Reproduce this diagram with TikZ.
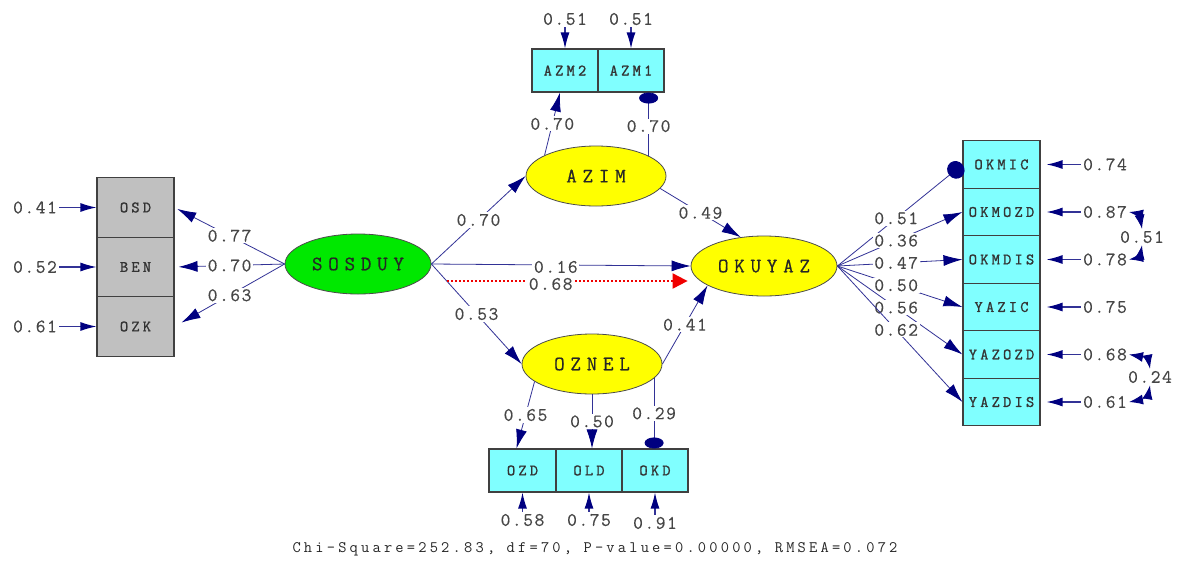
\documentclass[tikz,border=0pt]{standalone}
\usepackage{fontspec}
\usetikzlibrary{shapes.geometric,arrows.meta,calc}
\newfontfamily\numfont[LetterSpace=8,FakeBold=0.3]{Latin Modern Mono}
\newfontfamily\boxfont[LetterSpace=20,FakeBold=1.2]{Latin Modern Mono}
\newfontfamily\latfont[LetterSpace=28,FakeBold=0.6]{Latin Modern Mono}
\newfontfamily\fitfont[LetterSpace=20]{Latin Modern Mono}
\definecolor{linecol}{RGB}{50,50,150}
\definecolor{headcol}{RGB}{0,0,128}
\definecolor{numgray}{RGB}{70,70,70}
\definecolor{obsgray}{RGB}{192,192,192}
\definecolor{obscyan}{RGB}{128,255,255}
\definecolor{latyellow}{RGB}{255,255,0}
\definecolor{latgreen}{RGB}{0,232,0}
\definecolor{dotred}{RGB}{240,0,0}
\tikzset{
  num/.style={font=\numfont\fontsize{19}{19}\selectfont, text=numgray, inner sep=2pt},
  lab/.style={num, fill=white, inner sep=1.5pt},
  obs/.style={rectangle, draw=black!75, line width=1.1pt, inner sep=0pt,
    minimum width=77pt, font=\boxfont\fontsize{16}{16}\selectfont, text=black!80},
  graybox/.style={obs, fill=obsgray, minimum height=59.5pt},
  cyanbox/.style={obs, fill=obscyan, minimum width=66pt, minimum height=43pt},
  rightbox/.style={obs, fill=obscyan, minimum height=47.5pt},
  lat/.style={ellipse, draw=black!70, line width=0.8pt, fill=latyellow, inner sep=0pt,
    minimum width=140pt, minimum height=60pt,
    font=\latfont\fontsize{20.5}{20.5}\selectfont, text=black!85},
  pth/.style={draw=linecol, line width=0.8pt, -{Latex[length=19pt,width=11pt,color=headcol]}},
  err/.style={draw=linecol, line width=1.2pt, -{Latex[length=16pt,width=9pt,color=headcol]}},
  blob/.style={-{Circle[length=11pt,width=19pt,color=headcol]}},
  bigblob/.style={-{Circle[length=17pt,width=18pt,color=headcol]}},
  cov/.style={draw=linecol, line width=0.9pt,
    {Latex[length=14pt,width=10pt,color=headcol]}-{Latex[length=14pt,width=10pt,color=headcol]}},
}
\begin{document}
\begin{tikzpicture}[x=1pt,y=-1pt]
\fill[white] (0,0) rectangle (1182,560);
\useasboundingbox (0,0) rectangle (1182,560);

% latent variables
\node[lat, fill=latgreen, minimum width=146pt] (sos) at (358,264) {SOSDUY};
\node[lat] (azim) at (596,176) {AZIM};
\node[lat, minimum width=146pt] (oku) at (764,266) {OKUYAZ};
\node[lat] (oznel) at (592,364) {OZNEL};

% indicators of SOSDUY
\node[graybox] (osd) at (135.5,207.5) {OSD};
\node[graybox] (ben) at (135.5,267) {BEN};
\node[graybox] (ozk) at (135.5,326.5) {OZK};

% indicators of AZIM
\node[cyanbox] (azm2) at (565,70.5) {AZM2};
\node[cyanbox] (azm1) at (631,70.5) {AZM1};

% indicators of OZNEL
\node[cyanbox, minimum width=67pt] (ozd) at (522.5,470.5) {OZD};
\node[cyanbox] (old) at (589,470.5) {OLD};
\node[cyanbox] (okd) at (655,470.5) {OKD};

% indicators of OKUYAZ
\node[rightbox] (okmic) at (1001.5,164.5) {OKMIC};
\node[rightbox] (okmozd) at (1001.5,212) {OKMOZD};
\node[rightbox] (okmdis) at (1001.5,259.5) {OKMDIS};
\node[rightbox] (yazic) at (1001.5,307) {YAZIC};
\node[rightbox] (yazozd) at (1001.5,354.5) {YAZOZD};
\node[rightbox] (yazdis) at (1001.5,402) {YAZDIS};

% error variances
\node[num] (e41) at (35,207.5) {0.41};
\node[num] (e52) at (35,267) {0.52};
\node[num] (e61) at (35,326.5) {0.61};
\node[num] (ea2) at (565,19) {0.51};
\node[num] (ea1) at (631,19) {0.51};
\node[num] (e58) at (522.5,520) {0.58};
\node[num] (e75) at (589,520) {0.75};
\node[num] (e91) at (655,523) {0.91};
\node[num] (e74) at (1105,164.5) {0.74};
\node[num] (e87) at (1105,212) {0.87};
\node[num] (e78) at (1105,259.5) {0.78};
\node[num] (e75b) at (1105,307) {0.75};
\node[num] (e68) at (1105,354.5) {0.68};
\node[num] (e61b) at (1105,402) {0.61};

\foreach \e/\b in {e41/osd, e52/ben, e61/ozk, ea2/azm2, ea1/azm1, e58/ozd, e75/old, e91/okd}
  \draw[err] (\e) -- (\b);
\foreach \e/\b in {e74/okmic, e87/okmozd, e78/okmdis, e75b/yazic, e68/yazozd, e61b/yazdis}
  \draw[err, shorten >=6pt] (\e) -- (\b);

% error covariances
\node[num] (c51) at (1142,237) {0.51};
\node[num] (c24) at (1150,377) {0.24};
\draw[cov] (e87.east) to[out=-10,in=100] (c51.north);
\draw[cov] (e78.east) to[out=10,in=-100] (c51.south);
\draw[cov] (e68.east) to[out=-10,in=100] (c24.north);
\draw[cov] (e61b.east) to[out=10,in=-100] (c24.south);

% SOSDUY loadings
\draw[pth, shorten >=3pt] (sos.west) -- (osd.east) node[lab, pos=0.5] {0.77};
\draw[pth, shorten >=4pt] (sos.west) -- (ben.east) node[lab, pos=0.5] {0.70};
\draw[pth, shorten >=8pt] (sos.west) -- (ozk.east) node[lab, pos=0.5] {0.63};

% structural paths
\draw[pth] (sos.east) -- (azim.west) node[lab, pos=0.5] {0.70};
\draw[pth] (sos.east) -- (oznel.west) node[lab, pos=0.5] {0.53};
\draw[pth] (sos.east) -- (oku.west) node[lab, pos=0.48, yshift=-2pt] {0.16};
\draw[dotred, line width=2pt, dash pattern=on 2pt off 2pt,
  -{Triangle[length=15pt,width=15pt,color=dotred]}]
  ([xshift=16pt,yshift=-17pt]sos.east) -- ([xshift=-3pt,yshift=-15pt]oku.west)
  node[lab, pos=0.43, yshift=-3pt, inner ysep=0.5pt] {0.68};
\draw[pth] (azim.-11) -- (oku.129) node[lab, pos=0.5] {0.49};
\draw[pth] (oznel.east) -- (oku.199) node[lab, pos=0.5] {0.41};

% AZIM loadings
\draw[pth] (azim.158) -- ([xshift=-5pt]azm2.south) node[lab, pos=0.5] {0.70};
\draw[pth, blob] (azim.21) -- (azim.21 |- azm1.south) node[lab, pos=0.47] {0.70};

% OZNEL loadings
\draw[pth] (oznel.197) -- ([xshift=-6pt]ozd.north) node[lab, pos=0.5] {0.65};
\draw[pth] (oznel.south) -- (oznel.south |- old.north) node[lab, pos=0.5] {0.50};
\draw[pth, blob] (oznel.-13.5) -- (oznel.-13.5 |- okd.north) node[lab, pos=0.5] {0.29};

% OKUYAZ loadings
\draw[pth, bigblob] (oku.east) -- (okmic.west) node[lab, pos=0.47] {0.51};
\draw[pth] (oku.east) -- (okmozd.west) node[lab, pos=0.47] {0.36};
\draw[pth] (oku.east) -- (okmdis.west) node[lab, pos=0.47] {0.47};
\draw[pth] (oku.east) -- (yazic.west) node[lab, pos=0.47] {0.50};
\draw[pth] (oku.east) -- (yazozd.west) node[lab, pos=0.47] {0.56};
\draw[pth] (oku.east) -- (yazdis.west) node[lab, pos=0.47] {0.62};

% fit statistics
\node[font=\fitfont\fontsize{16}{16}\selectfont, text=black!85] (fit) at (595,549)
  {Chi-Square=252.83, df=70, P-value=0.00000, RMSEA=0.072};
\end{tikzpicture}
\end{document}
